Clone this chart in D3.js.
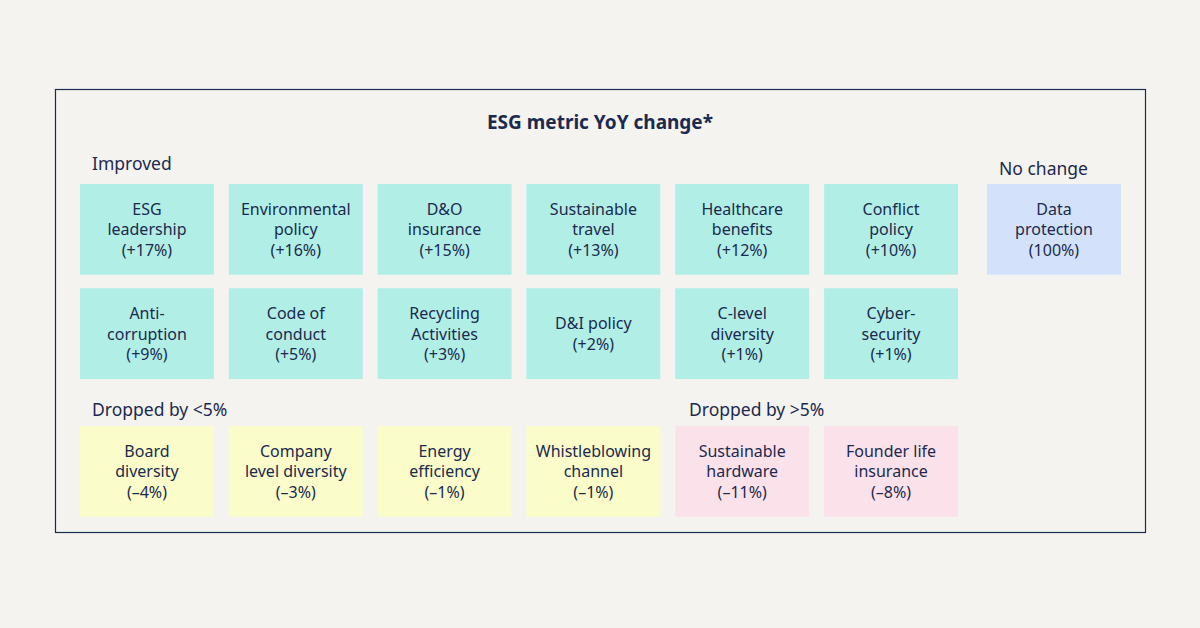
<!DOCTYPE html>
<html>
<head>
<meta charset="utf-8">
<script src="https://cdn.jsdelivr.net/npm/d3@7"></script>
<style>
  body { margin: 0; background: #f4f3f0; }
  svg { display: block; font-family: "Noto Sans", sans-serif; }
</style>
</head>
<body>
<div id="chart"></div>
<script>
// metric names (\n = line break in the note), YoY change and group
var metrics = [
  "ESG\nleadership", "Environmental\npolicy", "D&O\ninsurance", "Sustainable\ntravel",
  "Healthcare\nbenefits", "Conflict\npolicy",
  "Anti-\ncorruption", "Code of\nconduct", "Recycling\nActivities", "D&I policy",
  "C-level\ndiversity", "Cyber-\nsecurity",
  "Data\nprotection",
  "Board\ndiversity", "Company\nlevel diversity", "Energy\nefficiency", "Whistleblowing\nchannel",
  "Sustainable\nhardware", "Founder life\ninsurance"
];
var changes = [17, 16, 15, 13, 12, 10, 9, 5, 3, 2, 1, 1, null, -4, -3, -1, -1, -11, -8];
var groups = [
  "improved", "improved", "improved", "improved", "improved", "improved",
  "improved", "improved", "improved", "improved", "improved", "improved",
  "nochange",
  "drop5", "drop5", "drop5", "drop5",
  "dropbig", "dropbig"
];
var groupNames = ["improved", "nochange", "drop5", "dropbig"];
var groupLabels = ["Improved", "No change", "Dropped by <5%", "Dropped by >5%"];
var groupColors = ["#b1eee6", "#d3e2fa", "#fafcc9", "#fbe1ea"];

var W = 1200, H = 628;
var svg = d3.select("#chart").append("svg")
    .attr("width", W)
    .attr("height", H);

svg.append("rect")
    .attr("width", W).attr("height", H)
    .attr("fill", "#f4f3f0");

// frame
svg.append("rect")
    .attr("x", 55.5).attr("y", 89.5)
    .attr("width", 1090).attr("height", 443)
    .attr("fill", "none")
    .attr("stroke", "#1b2a4e")
    .attr("stroke-width", 1.2);

svg.append("text")
    .attr("x", 600).attr("y", 129)
    .attr("text-anchor", "middle")
    .attr("font-size", "19px")
    .attr("font-weight", 700)
    .attr("fill", "#1b2a4e")
    .text("ESG metric YoY change*");

var color = d3.scaleOrdinal().domain(groupNames).range(groupColors);

// grid: 6 columns for the main notes, one extra column for "no change"
var x = d3.scaleBand().domain(d3.range(6)).range([80, 958]).paddingInner(0.1);
var y = d3.scaleBand().domain([0, 1]).range([184, 379]).paddingInner(0.13);
var xExtra = 987, yBottom = 426;

// work out each note's slot from its group order
var data = metrics.map(function(m, i) {
  return { name: m, change: changes[i], group: groups[i] };
});
var counters = {};
data.forEach(function(d) {
  var k = counters[d.group] || 0;
  counters[d.group] = k + 1;
  if (d.group === "improved") {
    d.x = x(k % 6); d.y = y(Math.floor(k / 6));
  } else if (d.group === "nochange") {
    d.x = xExtra; d.y = y(0);
  } else if (d.group === "drop5") {
    d.x = x(k); d.y = yBottom;
  } else {
    d.x = x(4 + k); d.y = yBottom;
  }
});

function fmt(v) {
  if (v === null) return "(100%)";
  return "(" + (v > 0 ? "+" : "\u2013") + Math.abs(v) + "%)";
}

var notes = svg.selectAll(".note")
    .data(data)
    .enter()
    .append("g")
    .attr("class", "note")
    .attr("transform", function(d) { return "translate(" + d.x + "," + d.y + ")"; });

notes.append("rect")
    .attr("width", x.bandwidth())
    .attr("height", y.bandwidth())
    .attr("fill", function(d) { return color(d.group); });

var lh = 20.5;
notes.each(function(d) {
  var lines = d.name.split("\n").concat([fmt(d.change)]);
  var t = d3.select(this).append("text")
      .attr("text-anchor", "middle")
      .attr("font-size", "16px")
      .attr("fill", "#1b2a4e");
  var top = y.bandwidth() / 2 - (lines.length - 1) * lh / 2 + 6;
  lines.forEach(function(l, i) {
    t.append("tspan")
        .attr("x", x.bandwidth() / 2)
        .attr("y", top + i * lh)
        .text(l);
  });
});

// section labels
var labelPos = {
  improved: [92, 170],
  nochange: [999, 175],
  drop5: [92, 416],
  dropbig: [689, 416]
};
svg.selectAll(".glabel")
    .data(groupNames)
    .enter()
    .append("text")
    .attr("class", "glabel")
    .attr("x", function(g) { return labelPos[g][0]; })
    .attr("y", function(g) { return labelPos[g][1]; })
    .attr("font-size", "17.5px")
    .attr("fill", "#1b2a4e")
    .text(function(g, i) { return groupLabels[i]; });
</script>
</body>
</html>
